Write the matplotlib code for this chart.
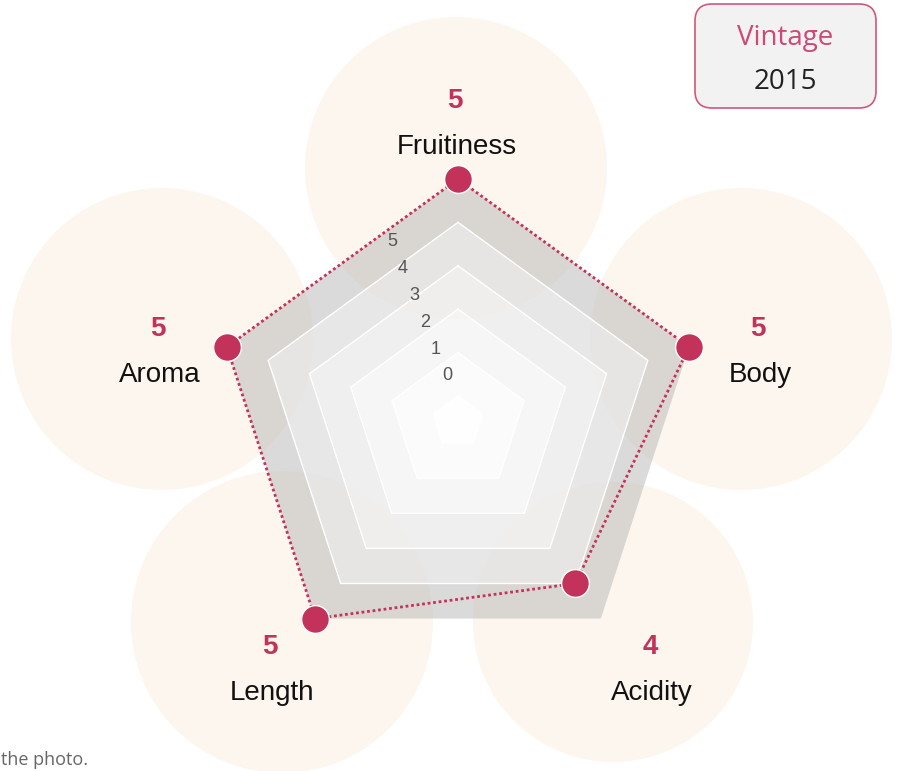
import numpy as np
import matplotlib
matplotlib.use("Agg")
import matplotlib.pyplot as plt
from matplotlib.patches import Circle, FancyBboxPatch

categories = ["Fruitiness", "Body", "Acidity", "Length", "Aroma"]
scores = [5, 5, 4, 5, 5]
levels = [0, 1, 2, 3, 4, 5]
vintage_title = "Vintage"
vintage_year = "2015"
caption = "the photo."

W, H = 899, 771
CRIMSON = "#c2325b"
PEACH = "#fdf6ee"

# pixel layout of the label bubbles (x, y from top-left)
label_xy = {
    "Fruitiness": (457, 147),
    "Body": (760, 375),
    "Acidity": (652, 693),
    "Length": (272, 693),
    "Aroma": (160, 375),
}
bubble_xy = {
    "Fruitiness": (456, 168),
    "Body": (741, 339),
    "Acidity": (613, 622),
    "Length": (282, 622),
    "Aroma": (162, 339),
}

fig = plt.figure(figsize=(W / 100, H / 100), dpi=100)
fig.patch.set_facecolor("white")

# background layer in pixel coordinates
bg = fig.add_axes([0, 0, 1, 1], zorder=0)
bg.set_xlim(0, W)
bg.set_ylim(H, 0)
bg.axis("off")

for cat, s in zip(categories, scores):
    cx, cy = bubble_xy[cat]
    bg.add_patch(Circle((cx, cy), 96 + 11 * s, color=PEACH, lw=0))

# radar
ax = fig.add_axes([215 / W, 106 / H, 486 / W, 486 / H], projection="polar", zorder=1)
ax.set_facecolor("none")
ax.set_theta_offset(np.pi / 2)
ax.set_theta_direction(-1)
ax.set_ylim(-0.6, 5)

theta = np.linspace(0, 2 * np.pi, len(categories), endpoint=False)
closed = np.append(theta, theta[0])
n = len(closed)

band_grays = ["#fefefe", "#fafafa", "#f4f4f4", "#ececec", "#e1e1e1", "#bcbcbc"]
band_alpha = [0.8, 0.8, 0.8, 0.8, 0.8, 0.55]
edges = [-0.6] + levels
for i, g in enumerate(band_grays):
    lo, hi = edges[i], edges[i + 1]
    ax.fill(np.concatenate([closed, closed[::-1]]),
            np.concatenate([np.full(n, hi), np.full(n, lo)]),
            color=g, alpha=band_alpha[i], lw=0, zorder=1)

for lv in levels[:-1]:
    ax.plot(closed, [lv] * n, color="white", lw=1, zorder=2)

vals = scores + scores[:1]
ax.plot(closed, vals, color=CRIMSON, lw=2, ls=(0, (1, 1)), zorder=3, clip_on=False)
ax.plot(theta, scores, "o", ms=20, mfc=CRIMSON, mec="white", mew=1,
        zorder=4, clip_on=False)

ax.set_xticks([])
ax.set_yticks([])
ax.grid(False)
ax.spines["polar"].set_visible(False)

# scale labels
for lv in levels:
    ax.text(447 - 11 * lv, 376 - 26.8 * lv, str(lv), transform=bg.transData,
            ha="center", va="center", fontsize=13, color="#555555",
            family="Liberation Sans", zorder=5, clip_on=False)

# category names and scores
for cat, s in zip(categories, scores):
    lx, ly = label_xy[cat]
    ax.text(lx, ly, cat, transform=bg.transData, ha="center", va="center",
            fontsize=20, color="#111111", family="Liberation Sans",
            zorder=6, clip_on=False)
    ax.text(lx - 2, ly - 46, str(s), transform=bg.transData, ha="center",
            va="center", fontsize=20, fontweight="bold", color=CRIMSON,
            family="Liberation Sans", zorder=6, clip_on=False)

# vintage box
bg.add_patch(FancyBboxPatch((695, 4), 181, 104,
                            boxstyle="round,pad=0,rounding_size=17",
                            fc="#f2f2f2", ec="#d0587b", lw=1.2))
bg.text(785, 38, vintage_title, ha="center", va="center", fontsize=20,
        color="#cc4a73", family="Open Sans")
bg.text(785, 82, vintage_year, ha="center", va="center", fontsize=20,
        color="#222222", family="Open Sans")

bg.text(1, 760, caption, ha="left", va="center", fontsize=13,
        color="#666666", family="Open Sans")

fig.savefig("out.png", dpi=100)
